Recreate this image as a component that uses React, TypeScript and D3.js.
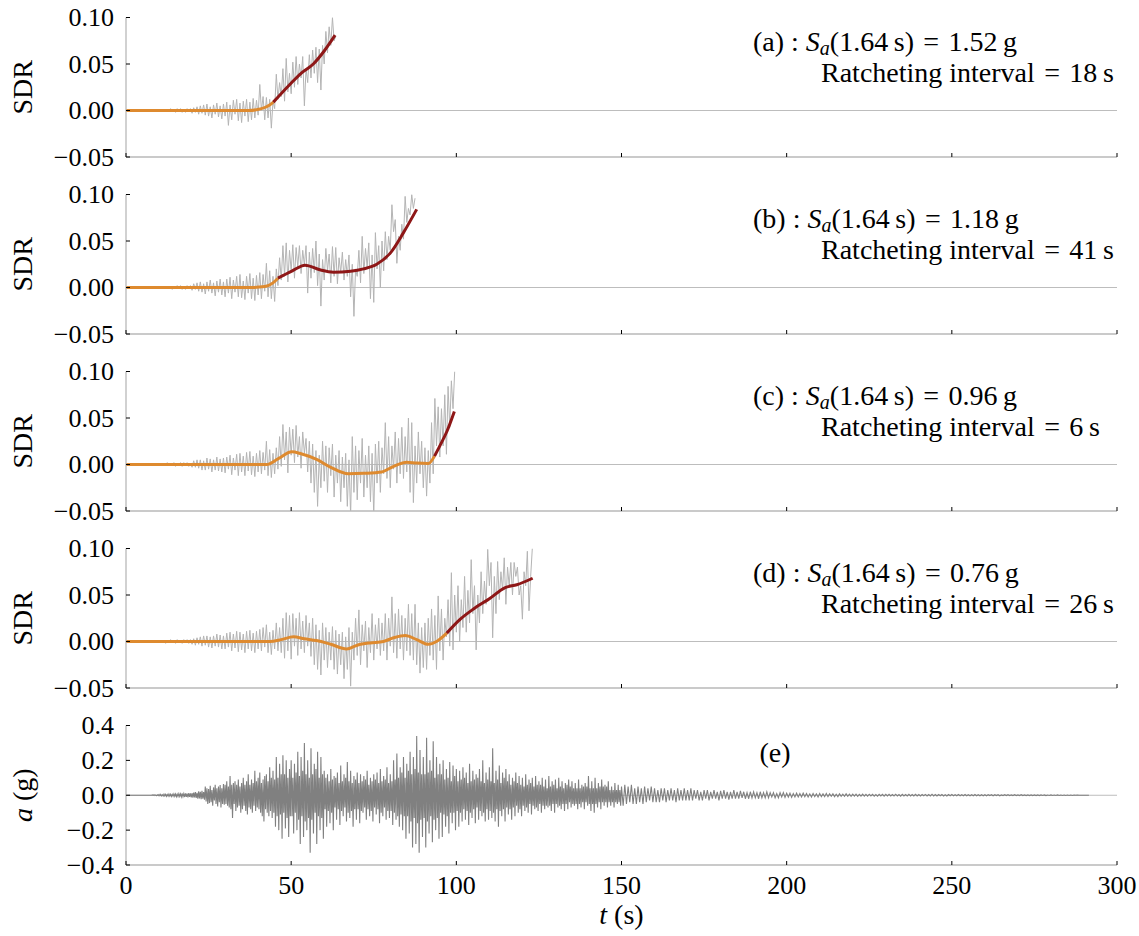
import React from "react";
import * as d3 from "d3";

const TXT = { fontFamily: '"Liberation Serif"' };

// time axis shared by every panel
const xTicks = [0, 50, 100, 150, 200, 250, 300];
const sdrTicks = [-0.05, 0, 0.05, 0.1];
const accTicks = [-0.4, -0.2, 0, 0.2, 0.4];

// gray SDR records, sampled every 0.5 s starting at t = 10 s
const GRAY_T0 = 10;
const GRAY_DT = 0.5;

const grayA = [
  0, 0.001, -0.001, 0.001, -0.001, 0.001, -0.001, 0.002, -0.001, 0.001, -0.002, 0.002, -0.001, 0.002, -0.002, 0.001, -0.002, 0.002, -0.001, 0.002,
  -0.003, 0.003, -0.002, 0.004, -0.004, 0.005, -0.003, 0.006, -0.005, 0.007, -0.006, 0.004, -0.008, 0.006, -0.004, 0.008, -0.007, 0.005, -0.009, 0.007,
  -0.006, 0.009, -0.016, 0.006, -0.01, 0.011, -0.004, 0.012, -0.011, 0.008, -0.013, 0.01, -0.006, 0.012, -0.012, 0.009, -0.01, 0.013, -0.008, 0.011,
  -0.005, 0.028, 0.0, 0.015, -0.01, 0.014, -0.008, 0.012, -0.019, 0.01, 0.002, 0.039, 0.012, 0.03, 0.015, 0.045, 0.01, 0.056, 0.02, 0.04,
  0.018, 0.052, 0.025, 0.058, 0.028, 0.05, 0.035, 0.058, 0.005, 0.045, 0.03, 0.06, 0.035, 0.065, 0.04, 0.068, 0.03, 0.066, 0.022, 0.07,
  0.05, 0.085, 0.062, 0.09, 0.07, 0.1, 0.075, 0.08,
];

const grayB = [
  0, 0.001, -0.001, 0.001, -0.001, 0.001, -0.001, 0.001, -0.002, 0.001, -0.001, 0.002, -0.001, 0.002, -0.002, 0.001, -0.002, 0.002, -0.001, 0.002,
  -0.003, 0.004, -0.002, 0.005, -0.004, 0.006, -0.005, 0.004, -0.007, 0.006, -0.004, 0.008, -0.006, 0.005, -0.009, 0.007, -0.005, 0.009, -0.008, 0.006,
  -0.01, 0.009, -0.006, 0.011, -0.012, 0.008, -0.005, 0.012, -0.01, 0.014, -0.011, 0.007, -0.013, 0.012, -0.006, 0.015, -0.012, 0.01, -0.014, 0.013,
  -0.008, 0.016, -0.012, 0.014, -0.004, 0.026, -0.01, 0.018, -0.012, 0.012, -0.015, 0.02,
  0.002, 0.032, 0.008, 0.045, 0.012, 0.048, 0.006, 0.04, 0.018, 0.046, 0.01, 0.043, 0.022, 0.045, 0.015, 0.04, 0.024, 0.045, -0.006, 0.038,
  0.01, 0.042, 0.016, 0.05, 0.002, 0.036, -0.02, 0.03, 0.008, 0.042, 0.018, 0.036, 0.005, 0.044, 0.012, 0.043, 0.004, 0.032, 0.016, 0.038,
  0.008, 0.03, 0.012, 0.035, -0.01, 0.025, -0.031, 0.02, 0.012, 0.04, 0.005, 0.055, 0.015, 0.042, 0.022, 0.048, -0.012, 0.035, -0.016, 0.059,
  0.02, 0.045, 0.0, 0.05, 0.018, 0.06, 0.03, 0.055, 0.04, 0.089, 0.06, 0.073, 0.026, 0.055, 0.04, 0.068, 0.052, 0.098, 0.07, 0.085, 0.078, 0.1, 0.085, 0.096,
];

const grayC = [
  0, 0.001, -0.001, 0.001, -0.001, 0.002, -0.001, 0.001, -0.001, 0.002, -0.002, 0.001, -0.001, 0.002, -0.002, 0.002, -0.001, 0.002, -0.002, 0.001,
  -0.003, 0.004, -0.003, 0.005, -0.004, 0.005, -0.006, 0.004, -0.006, 0.007, -0.005, 0.006, -0.008, 0.005, -0.006, 0.008, -0.007, 0.006, -0.008, 0.007,
  -0.009, 0.008, -0.005, 0.01, -0.011, 0.007, -0.006, 0.011, -0.012, 0.012, -0.008, 0.009, -0.012, 0.013, -0.007, 0.014, -0.011, 0.009, -0.013, 0.012,
  -0.008, 0.015, -0.01, 0.013, -0.006, 0.025, -0.012, 0.016, -0.014, 0.012, -0.01, 0.018,
  -0.005, 0.03, -0.002, 0.043, 0.005, 0.035, -0.009, 0.04, 0.01, 0.038, 0.002, 0.042, 0.008, 0.03, -0.004, 0.035, 0.012, 0.028, -0.008, 0.025,
  -0.02, 0.022, -0.03, 0.015, -0.045, 0.01, -0.025, 0.025, -0.018, 0.02, -0.03, 0.018, -0.012, 0.022, -0.035, 0.01, -0.02, 0.015, -0.04, 0.008,
  -0.025, 0.012, -0.045, 0.005, -0.055, 0.03, -0.03, 0.02, -0.038, 0.015, -0.02, 0.028, -0.035, 0.01, -0.025, 0.02, -0.04, 0.012, -0.055, 0.022,
  -0.02, 0.025, -0.03, 0.018, -0.01, 0.045, -0.015, 0.03, -0.025, 0.02, -0.005, 0.035, -0.02, 0.028, -0.01, 0.04, -0.015, 0.03, -0.008, 0.05,
  -0.03, 0.045, -0.041, 0.02, -0.02, 0.035, -0.01, 0.025, -0.025, 0.018, -0.034, 0.015, -0.02, 0.045, -0.01, 0.071, 0.02, 0.062, 0.008, 0.06,
  0.02, 0.075, 0.011, 0.084, 0.04, 0.09, 0.06, 0.1,
];

const grayD = [
  0, 0.001, -0.001, 0.001, -0.002, 0.001, -0.001, 0.002, -0.001, 0.001, -0.002, 0.002, -0.001, 0.001, -0.002, 0.002, -0.001, 0.002, -0.002, 0.002,
  -0.003, 0.003, -0.004, 0.004, -0.003, 0.005, -0.005, 0.006, -0.004, 0.006, -0.006, 0.005, -0.007, 0.006, -0.005, 0.008, -0.006, 0.007, -0.008, 0.006,
  -0.008, 0.009, -0.006, 0.01, -0.01, 0.008, -0.007, 0.011, -0.011, 0.01, -0.009, 0.008, -0.012, 0.011, -0.008, 0.012, -0.01, 0.009, -0.012, 0.011,
  -0.008, 0.013, -0.01, 0.015, -0.006, 0.018, -0.012, 0.01, -0.014, 0.012, -0.008, 0.02, -0.01, 0.015,
  -0.012, 0.025, -0.018, 0.031, -0.01, 0.028, -0.019, 0.03, -0.005, 0.025, -0.015, 0.031, -0.008, 0.022, -0.012, 0.028, -0.005, 0.02, -0.016, 0.025,
  -0.025, 0.018, -0.03, 0.012, -0.036, 0.02, -0.02, 0.015, -0.028, 0.01, -0.02, 0.016, -0.03, 0.012, -0.035, 0.008, -0.025, 0.01, -0.04, 0.005,
  -0.03, 0.015, -0.048, 0.01, -0.02, 0.025, -0.015, 0.034, -0.025, 0.018, -0.01, 0.022, -0.028, 0.015, -0.012, 0.03, -0.02, 0.018, -0.008, 0.025,
  -0.015, 0.02, -0.01, 0.03, -0.02, 0.025, -0.005, 0.048, -0.012, 0.03, -0.018, 0.035, -0.008, 0.028, -0.02, 0.025, -0.01, 0.04, -0.015, 0.03,
  -0.02, 0.04, -0.025, 0.02, -0.034, 0.015, -0.028, 0.02, -0.03, 0.025, -0.015, 0.035, -0.02, 0.028, -0.03, 0.049, -0.01, 0.035, -0.02, 0.025,
  0.005, 0.045, -0.005, 0.074, -0.009, 0.05, 0.01, 0.06, 0.0, 0.045, 0.015, 0.07, 0.01, 0.055, 0.02, 0.088, 0.03, 0.06, -0.009, 0.05,
  0.02, 0.075, 0.03, 0.065, 0.04, 0.099, 0.06, 0.085, 0.004, 0.07, 0.03, 0.086, 0.045, 0.075, 0.055, 0.09, 0.04, 0.08, 0.06, 0.085,
  0.05, 0.085, 0.07, 0.08, 0.05, 0.06, 0.024, 0.075, 0.06, 0.097, 0.033, 0.07, 0.1,
];

// smoothed drift [t, SDR]: pre-ratcheting (orange) and ratcheting interval (dark red)
const smoothA = [[0, 0], [37, 0], [41, 0.002], [43.5, 0.006], [44.6, 0.009]];
const ratchetA = [[44.6, 0.009], [49.6, 0.028], [53, 0.04], [56.7, 0.05], [60, 0.064], [63.3, 0.081]];
const smoothB = [[0, 0], [38, 0], [42, 0.001], [44.5, 0.005], [46, 0.01]];
const ratchetB = [[46, 0.01], [50.2, 0.0176], [54.2, 0.024], [58.7, 0.019], [62.8, 0.0165], [68, 0.0175], [71.9, 0.02], [75.9, 0.025], [80, 0.037], [84, 0.059], [88, 0.084]];
const smoothC = [[0, 0], [42.6, 0], [46, 0.006], [50.2, 0.0136], [53, 0.0115], [57.7, 0.0054], [62, -0.003], [67.3, -0.01], [72, -0.0095], [77.4, -0.008], [81, -0.002], [85, 0.0025], [88, 0.0015], [91.5, 0.001], [93.4, 0.009]];
const ratchetC = [[93.4, 0.009], [95, 0.02], [97.2, 0.036], [99.4, 0.057]];
const smoothD = [[0, 0], [43.6, 0], [47, 0.002], [50.7, 0.005], [54, 0.003], [57.7, 0.001], [62, -0.003], [66.8, -0.008], [70, -0.004], [73.9, -0.0015], [77.9, 0], [81, 0.004], [84.5, 0.0065], [88, 0.002], [91.5, -0.003], [94, 0], [97.1, 0.009]];
const ratchetD = [[97.1, 0.009], [101.2, 0.024], [105.2, 0.035], [110, 0.046], [114.8, 0.058], [118.3, 0.061], [123.1, 0.068]];

const panelLetters = ["a", "b", "c", "d"];
const saValues = ["1.52", "1.18", "0.96", "0.76"];
const ratchetIntervals = [18, 41, 6, 26];

// ground acceleration (g): strong phase every 0.25 s from t = 0, coda every 0.5 s from t = 150
const ACC_DT = 0.25;
const accelStrong = [
  0, 0, 0, 0, 0, 0, 0, 0, 0, 0, 0, 0, 0, 0, 0, 0, 0, 0, 0, 0, 0, 0, 0, 0, 0, 0, 0, 0, 0, 0, 0, 0, 0.002, -0.001, 0.003, -0.002, 0.002, -0.003, 0.003, -0.002,
  0.004, -0.003, 0.005, -0.004, 0.003, -0.005, 0.006, -0.004, 0.005, -0.006, 0.004, -0.005, 0.007, -0.005, 0.006, -0.007, 0.005, -0.006, 0.008, -0.006, 0.007, -0.008, 0.006, -0.007, 0.009, -0.007, 0.008, -0.009, 0.01, -0.008, 0.009, -0.01, 0.011, -0.009, 0.01, -0.012, 0.012, -0.01, 0.011, -0.013,
  0.012, -0.014, 0.015, -0.012, 0.018, -0.015, 0.014, -0.02, 0.022, -0.018, 0.02, -0.022, 0.025, -0.02, 0.018, -0.025, 0.05, -0.035, 0.04, -0.05, 0.035, -0.045, 0.055, -0.04, 0.03, -0.06, 0.045, -0.03, 0.06, -0.05, 0.04, -0.065, 0.05, -0.04, 0.058, -0.07, 0.04, -0.05, 0.065, -0.055,
  0.06, -0.05, 0.08, -0.06, 0.05, -0.07, 0.11, -0.08, 0.06, -0.13, 0.07, -0.05, 0.08, -0.09, 0.06, -0.07, 0.09, -0.06, 0.05, -0.1, 0.07, -0.08, 0.1, -0.06, 0.06, -0.09, 0.08, -0.11, 0.12, -0.07, 0.06, -0.08, 0.09, -0.1, 0.07, -0.06, 0.14, -0.09, 0.08, -0.07,
  0.1, -0.08, 0.13, -0.1, 0.07, -0.12, 0.09, -0.15, 0.11, -0.08, 0.12, -0.1, 0.08, -0.12, 0.16, -0.09, 0.1, -0.13, 0.14, -0.1, 0.09, -0.18, 0.22, -0.12, 0.1, -0.2, 0.18, -0.11, 0.12, -0.25, 0.23, -0.1, 0.12, -0.19, 0.2, -0.13, 0.1, -0.24, 0.15, -0.12,
  0.2, -0.12, 0.1, -0.22, 0.18, -0.1, 0.13, -0.2, 0.25, -0.14, 0.11, -0.28, 0.22, -0.12, 0.14, -0.24, 0.3, -0.15, 0.12, -0.2, 0.2, -0.13, 0.1, -0.33, 0.27, -0.14, 0.12, -0.22, 0.18, -0.1, 0.15, -0.28, 0.25, -0.12, 0.1, -0.2, 0.22, -0.13, 0.12, -0.25,
  0.14, -0.08, 0.1, -0.18, 0.12, -0.09, 0.08, -0.16, 0.15, -0.1, 0.09, -0.2, 0.11, -0.07, 0.1, -0.14, 0.13, -0.08, 0.07, -0.17, 0.17, -0.09, 0.08, -0.12, 0.12, -0.07, 0.1, -0.15, 0.19, -0.1, 0.08, -0.13, 0.14, -0.09, 0.07, -0.18, 0.11, -0.08, 0.09, -0.14,
  0.13, -0.08, 0.07, -0.16, 0.12, -0.09, 0.08, -0.1, 0.11, -0.07, 0.09, -0.14, 0.14, -0.08, 0.06, -0.12, 0.1, -0.09, 0.08, -0.15, 0.12, -0.07, 0.09, -0.11, 0.13, -0.08, 0.07, -0.16, 0.15, -0.1, 0.08, -0.12, 0.11, -0.07, 0.09, -0.14, 0.16, -0.09, 0.07, -0.13,
  0.12, -0.09, 0.08, -0.17, 0.2, -0.1, 0.09, -0.14, 0.24, -0.12, 0.1, -0.18, 0.16, -0.11, 0.13, -0.2, 0.22, -0.12, 0.1, -0.25, 0.18, -0.12, 0.14, -0.22, 0.25, -0.15, 0.12, -0.3, 0.22, -0.13, 0.15, -0.28, 0.34, -0.16, 0.13, -0.33, 0.26, -0.14, 0.12, -0.24,
  0.22, -0.13, 0.12, -0.3, 0.33, -0.15, 0.13, -0.22, 0.2, -0.12, 0.14, -0.27, 0.31, -0.14, 0.1, -0.2, 0.22, -0.13, 0.12, -0.25, 0.18, -0.1, 0.12, -0.24, 0.2, -0.11, 0.09, -0.18, 0.15, -0.12, 0.1, -0.22, 0.19, -0.1, 0.08, -0.16, 0.17, -0.1, 0.11, -0.2,
  0.15, -0.09, 0.08, -0.18, 0.14, -0.1, 0.09, -0.15, 0.16, -0.08, 0.1, -0.14, 0.13, -0.09, 0.07, -0.17, 0.18, -0.1, 0.08, -0.13, 0.14, -0.08, 0.09, -0.16, 0.12, -0.07, 0.1, -0.14, 0.15, -0.09, 0.08, -0.12, 0.2, -0.1, 0.07, -0.15, 0.13, -0.08, 0.09, -0.14,
  0.16, -0.09, 0.08, -0.13, 0.27, -0.1, 0.07, -0.15, 0.14, -0.08, 0.09, -0.18, 0.17, -0.09, 0.07, -0.12, 0.13, -0.08, 0.1, -0.15, 0.15, -0.07, 0.08, -0.11, 0.12, -0.08, 0.06, -0.14, 0.1, -0.07, 0.08, -0.12, 0.13, -0.06, 0.07, -0.1, 0.11, -0.08, 0.06, -0.12,
  0.1, -0.06, 0.05, -0.09, 0.12, -0.07, 0.06, -0.1, 0.09, -0.05, 0.07, -0.11, 0.1, -0.06, 0.05, -0.08, 0.11, -0.07, 0.06, -0.09, 0.08, -0.05, 0.06, -0.1, 0.1, -0.06, 0.05, -0.08, 0.09, -0.06, 0.04, -0.07, 0.11, -0.06, 0.05, -0.09, 0.08, -0.05, 0.06, -0.1,
  0.09, -0.05, 0.04, -0.07, 0.1, -0.06, 0.05, -0.08, 0.08, -0.05, 0.04, -0.09, 0.07, -0.05, 0.06, -0.08, 0.09, -0.04, 0.05, -0.07, 0.08, -0.05, 0.04, -0.06, 0.07, -0.05, 0.04, -0.08, 0.09, -0.05, 0.04, -0.07, 0.06, -0.04, 0.05, -0.08, 0.07, -0.04, 0.05, -0.06,
  0.11, -0.05, 0.04, -0.09, 0.08, -0.05, 0.04, -0.1, 0.1, -0.05, 0.04, -0.07, 0.07, -0.04, 0.05, -0.08, 0.09, -0.04, 0.05, -0.06, 0.06, -0.04, 0.05, -0.07, 0.08, -0.04, 0.03, -0.06, 0.05, -0.04, 0.03, -0.07, 0.07, -0.04, 0.03, -0.05, 0.06, -0.04, 0.03, -0.06,
];

const CODA_T0 = 150;
const CODA_DT = 0.5;
const accelCoda = [
  0.05, -0.06, 0.06, -0.05, 0.05, -0.04, 0.06, -0.05, 0.04, -0.05, 0.05, -0.04, 0.04, -0.05, 0.05, -0.04, 0.04, -0.03, 0.05, -0.04,
  0.04, -0.04, 0.03, -0.04, 0.04, -0.03, 0.04, -0.04, 0.03, -0.03, 0.04, -0.03, 0.03, -0.04, 0.04, -0.03, 0.03, -0.03, 0.04, -0.03,
  0.03, -0.03, 0.04, -0.03, 0.03, -0.02, 0.03, -0.03, 0.02, -0.03, 0.03, -0.02, 0.03, -0.03, 0.02, -0.02, 0.03, -0.02, 0.02, -0.03,
  0.025, -0.02, 0.03, -0.02, 0.02, -0.025, 0.02, -0.02, 0.03, -0.02, 0.02, -0.02, 0.025, -0.015, 0.02, -0.02, 0.015, -0.02, 0.02, -0.015,
  0.02, -0.015, 0.015, -0.02, 0.02, -0.015, 0.015, -0.015, 0.02, -0.015, 0.015, -0.01, 0.015, -0.015, 0.01, -0.015, 0.015, -0.01, 0.015, -0.012,
  0.012, -0.01, 0.012, -0.012, 0.01, -0.01, 0.012, -0.01, 0.01, -0.01, 0.012, -0.008, 0.01, -0.01, 0.008, -0.01, 0.01, -0.008, 0.008, -0.01,
  0.01, -0.008, 0.008, -0.008, 0.01, -0.008, 0.008, -0.006, 0.008, -0.008, 0.006, -0.008, 0.008, -0.006, 0.006, -0.006, 0.008, -0.006, 0.006, -0.006,
  0.006, -0.005, 0.006, -0.006, 0.005, -0.005, 0.006, -0.005, 0.005, -0.005, 0.006, -0.004, 0.005, -0.005, 0.004, -0.005, 0.005, -0.004, 0.005, -0.005,
  0.005, -0.004, 0.005, -0.004, 0.004, -0.004, 0.006, -0.004, 0.004, -0.005, 0.005, -0.004, 0.004, -0.004, 0.005, -0.004, 0.004, -0.004, 0.005, -0.004,
  0.004, -0.004, 0.004, -0.003, 0.005, -0.004, 0.004, -0.004, 0.006, -0.004, 0.004, -0.004, 0.004, -0.003, 0.004, -0.004, 0.003, -0.004, 0.004, -0.003,
  0.004, -0.003, 0.003, -0.003, 0.004, -0.003, 0.003, -0.003, 0.004, -0.003, 0.003, -0.003, 0.003, -0.003, 0.004, -0.003, 0.003, -0.003, 0.003, -0.003,
  0.003, -0.003, 0.003, -0.002, 0.003, -0.003, 0.003, -0.002, 0.003, -0.003, 0.002, -0.002, 0.003, -0.002, 0.003, -0.002, 0.002, -0.002, 0.003, -0.002,
  0.002, -0.002, 0.003, -0.002, 0.002, -0.002, 0.002, -0.002, 0.002, -0.002, 0.002, -0.002, 0.002, -0.002, 0.002, -0.001, 0.002, -0.002, 0.001, -0.001,
  0.002, -0.001, 0.001, -0.001, 0.002, -0.001, 0.001, -0.001, 0.001, -0.001, 0.001, -0.001, 0.001, -0.001, 0.001, 0, 0.001, 0, 0, 0,
  0, 0, 0, 0,
];

const grays = [grayA, grayB, grayC, grayD];
const smooths = [smoothA, smoothB, smoothC, smoothD];
const ratchets = [ratchetA, ratchetB, ratchetC, ratchetD];

// layout
const LEFT = 126;
const RIGHT = 1117;
const TOP0 = 17.5;
const STEP = 177;
const PH = 139.5;
const SPINE = "#b8b8b8";
const TICK = 4;
const EQ = "\u2004=\u2004"; // math-style spacing round "="

const x = d3.scaleLinear().domain([0, 300]).range([LEFT, RIGHT]);

function Frame({ y, ticks, fmt, label, showX }) {
  const [y0, y1] = y.range();
  return (
    <g>
      <line x1={LEFT} x2={LEFT} y1={y1} y2={y0} stroke={SPINE} strokeWidth={1.3} />
      <line x1={LEFT} x2={RIGHT} y1={y0} y2={y0} stroke={SPINE} strokeWidth={1.3} />
      {ticks.map((t) => (
        <g key={t}>
          <line x1={LEFT} x2={LEFT + TICK} y1={y(t)} y2={y(t)} stroke="#000" strokeWidth={1} />
          <text x={114} y={y(t)} dy="0.34em" textAnchor="end" fontSize={26} style={TXT}>
            {fmt(t)}
          </text>
        </g>
      ))}
      {xTicks.map((t) => (
        <g key={t}>
          <line x1={x(t)} x2={x(t)} y1={y0} y2={y0 - TICK} stroke="#000" strokeWidth={1} />
          {showX && (
            <text x={x(t)} y={y0 + 29} textAnchor="middle" fontSize={26} style={TXT}>
              {t}
            </text>
          )}
        </g>
      ))}
      <text transform={`translate(32,${(y0 + y1) / 2}) rotate(-90)`} textAnchor="middle" fontSize={28} style={TXT}>
        {label}
      </text>
    </g>
  );
}

export default function App() {
  const fmtSdr = d3.format(".2f");
  const fmtAcc = d3.format(".1f");

  const accPoints = [
    ...accelStrong.map((v, k) => [k * ACC_DT, v]),
    ...accelCoda.map((v, k) => [CODA_T0 + k * CODA_DT, v]),
  ];

  return (
    <svg width={1139} height={936} style={{ position: "absolute", left: 0, top: 0, background: "#fff" }}>
      {grays.map((g, i) => {
        const top = TOP0 + STEP * i;
        const y = d3.scaleLinear().domain([-0.05, 0.1]).range([top + PH, top]);
        const grayLine = d3
          .line<number>()
          .x((_, k) => x(GRAY_T0 + k * GRAY_DT))
          .y((d) => y(d));
        const smoothLine = d3
          .line<number[]>()
          .x((d) => x(d[0]))
          .y((d) => y(d[1]))
          .curve(d3.curveMonotoneX);
        return (
          <g key={i}>
            <defs>
              <clipPath id={`clip-${i}`}>
                <rect x={LEFT} y={top} width={RIGHT - LEFT} height={PH} />
              </clipPath>
            </defs>
            <line x1={LEFT} x2={RIGHT} y1={y(0)} y2={y(0)} stroke="#bdbdbd" strokeWidth={1} />
            <g clipPath={`url(#clip-${i})`}>
              <path d={grayLine(g) || ""} fill="none" stroke="#b4b4b4" strokeWidth={1} />
              <path d={smoothLine(smooths[i]) || ""} fill="none" stroke="#de8a2f" strokeWidth={3} />
              <path d={smoothLine(ratchets[i]) || ""} fill="none" stroke="#8e1717" strokeWidth={3} />
            </g>
            <Frame y={y} ticks={sdrTicks} fmt={fmtSdr} label="SDR" showX={false} />
            <text x={753} y={top + 33.5} fontSize={28} style={TXT}>
              {`(${panelLetters[i]}) : `}
              <tspan fontStyle="italic">S</tspan>
              <tspan fontStyle="italic" fontSize={20} dy={4}>a</tspan>
              <tspan dy={-4}>{`(1.64\u2009s)${EQ}${saValues[i]}\u2009g`}</tspan>
            </text>
            <text x={821} y={top + 64} fontSize={28} style={TXT}>
              {`Ratcheting interval${EQ}${ratchetIntervals[i]}\u2009s`}
            </text>
          </g>
        );
      })}
      {(() => {
        const top = TOP0 + STEP * 4;
        const y = d3.scaleLinear().domain([-0.4, 0.4]).range([top + PH, top]);
        const accLine = d3
          .line<number[]>()
          .x((d) => x(d[0]))
          .y((d) => y(d[1]));
        return (
          <g>
            <line x1={LEFT} x2={RIGHT} y1={y(0)} y2={y(0)} stroke="#bdbdbd" strokeWidth={1} />
            <path d={accLine(accPoints) || ""} fill="none" stroke="#808080" strokeWidth={1.1} />
            <Frame
              y={y}
              ticks={accTicks}
              fmt={fmtAcc}
              label={
                <>
                  <tspan fontStyle="italic">a</tspan> (g)
                </>
              }
              showX={true}
            />
            <text x={775} y={top + 36} textAnchor="middle" fontSize={28} style={TXT}>
              (e)
            </text>
          </g>
        );
      })()}
      <text x={(LEFT + RIGHT) / 2} y={924} textAnchor="middle" fontSize={28} style={TXT}>
        <tspan fontStyle="italic">t</tspan> (s)
      </text>
    </svg>
  );
}
